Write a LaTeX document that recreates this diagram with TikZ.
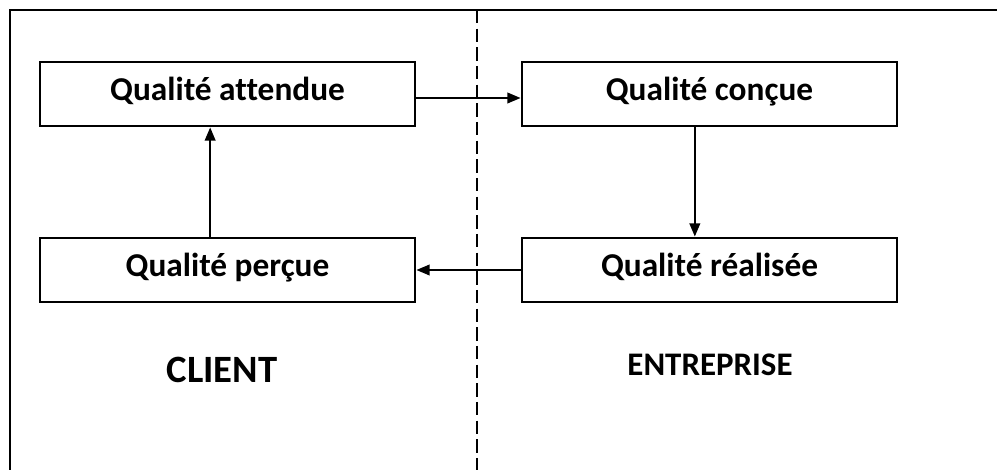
\documentclass[tikz,border=0pt]{standalone}
\usepackage{fontspec}
\setmainfont{Carlito}[Ligatures=NoCommon]
\usetikzlibrary{arrows.meta}
\begin{document}
\begin{tikzpicture}[x=0.75pt,y=-0.75pt,
  qbox/.style={draw,line width=2.1pt,minimum width=281.25pt,minimum height=48pt,
    inner sep=0pt,text height=14pt,text depth=3.5pt,
    font=\fontsize{25}{29}\selectfont\bfseries},
  flow/.style={line width=1.5pt,-{Triangle[length=10pt,width=8pt]}},
  side/.style={font=\fontsize{29}{33}\selectfont\bfseries}]
  \useasboundingbox (0,0) rectangle (997,470);
  % outer frame: top and left edges only
  \draw[line width=1.4pt] (997,10) -- (10,10) -- (10,470);
  % divider between the two sides
  \draw[line width=1.1pt,dash pattern=on 10pt off 4pt] (477,10) -- (477,470);
  % quality boxes
  \node[qbox] (att) at (227.5,94) {Qualité attendue};
  \node[qbox] (con) at (709.5,94) {Qualité conçue};
  \node[qbox] (per) at (227.5,270) {Qualité perçue};
  \node[qbox] (rea) at (709.5,270) {Qualité réalisée};
  % cycle connectors
  \draw[flow] ([yshift=-3pt]att.east) -- ([yshift=-3pt]con.west);
  \draw[flow] ([xshift=-11pt]con.south) -- ([xshift=-11pt]rea.north);
  \draw[flow] (rea.west) -- (per.east);
  \draw[flow] ([xshift=-13pt]per.north) -- ([xshift=-13pt]att.south);
  % side labels
  \node[side] (client) at (222,370) {CLIENT};
  \node[side,font=\fontsize{24.7}{28}\selectfont\bfseries] (entr) at (710,365) {ENTREPRISE};
\end{tikzpicture}
\end{document}
